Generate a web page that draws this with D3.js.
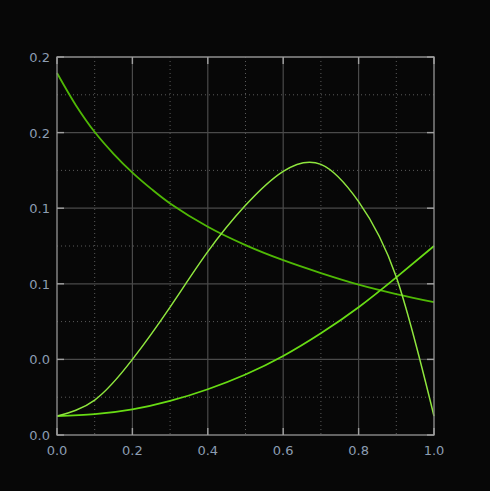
<!DOCTYPE html>
<html>
<head>
<meta charset="utf-8">
<script src="https://cdn.jsdelivr.net/npm/d3@7"></script>
<style>
  html, body { margin: 0; padding: 0; background: #070707; }
  svg { display: block; }
</style>
</head>
<body>
<div id="chart"></div>
<script>
// values
var xTicks = [0, 0.2, 0.4, 0.6, 0.8, 1.0];
var yTicks = [0, 0.04, 0.08, 0.12, 0.16, 0.20];

var decayX = [0, 0.05, 0.1, 0.15, 0.2, 0.25, 0.3, 0.4, 0.5, 0.6, 0.7, 0.8, 0.9, 1.0];
var decayY = [0.1915, 0.1745, 0.1603, 0.1488, 0.1388, 0.1302, 0.1225, 0.1102, 0.1005, 0.0925, 0.0857, 0.0796, 0.0746, 0.0703];

var humpX = [0, 0.1, 0.2, 0.3, 0.4, 0.5, 0.6, 0.7, 0.8, 0.9, 1.0];
var humpY = [0.010, 0.0185, 0.040, 0.0677, 0.0970, 0.1215, 0.1395, 0.1432, 0.1235, 0.0836, 0.0100];

var riseX = [0, 0.1, 0.2, 0.3, 0.4, 0.5, 0.6, 0.7, 0.8, 0.9, 1.0];
var riseY = [0.010, 0.011, 0.0135, 0.018, 0.0242, 0.032, 0.0418, 0.0538, 0.0676, 0.0834, 0.1000];

var chart = {
    width: 490,
    height: 491,
    margin: {top: 57, right: 56, bottom: 56, left: 57},
    init: function(){
        var m = this.margin;
        var w = this.width - m.left - m.right;
        var h = this.height - m.top - m.bottom;

        this.svg = d3.select('#chart').append('svg')
            .attr('width', this.width)
            .attr('height', this.height);
        this.svg.append('rect')
            .attr('width', this.width).attr('height', this.height)
            .attr('fill', '#070707');

        var g = this.svg.append('g').attr('transform', 'translate(' + m.left + ',' + m.top + ')');
        var x = d3.scaleLinear().domain([0, 1]).range([0, w]);
        var y = d3.scaleLinear().domain([0, 0.2]).range([h, 0]);

        // minor grid (dotted)
        var minorX = d3.range(0.1, 1, 0.2);
        var minorY = d3.range(0.02, 0.2, 0.04);
        g.selectAll('.mx').data(minorX).enter().append('line')
            .attr('x1', function(d){return x(d)}).attr('x2', function(d){return x(d)})
            .attr('y1', 0).attr('y2', h)
            .attr('stroke', '#5a5a5a').attr('stroke-width', 1).attr('stroke-dasharray', '1,3');
        g.selectAll('.my').data(minorY).enter().append('line')
            .attr('y1', function(d){return y(d)}).attr('y2', function(d){return y(d)})
            .attr('x1', 0).attr('x2', w)
            .attr('stroke', '#5a5a5a').attr('stroke-width', 1).attr('stroke-dasharray', '1,3');

        // major grid
        g.selectAll('.gx').data(xTicks.slice(1, -1)).enter().append('line')
            .attr('x1', function(d){return x(d)}).attr('x2', function(d){return x(d)})
            .attr('y1', 0).attr('y2', h)
            .attr('stroke', '#4a4a4a').attr('stroke-width', 1.2);
        g.selectAll('.gy').data(yTicks.slice(1)).enter().append('line')
            .attr('y1', function(d){return y(d)}).attr('y2', function(d){return y(d)})
            .attr('x1', 0).attr('x2', w)
            .attr('stroke', '#4a4a4a').attr('stroke-width', 1.2);

        // curves
        this.drawLine(g, x, y, decayX, decayY, '#4fb805', 1.8, d3.curveCatmullRom.alpha(0.5));
        this.drawLine(g, x, y, riseX, riseY, '#68dc14', 1.8, d3.curveNatural);
        this.drawLine(g, x, y, humpX, humpY, '#8fe63e', 1.5, d3.curveNatural);

        // frame
        g.append('rect').attr('width', w).attr('height', h)
            .attr('fill', 'none').attr('stroke', '#8a8a8a').attr('stroke-width', 1.4);

        // inward ticks on all sides
        var tk = 7;
        var tickCol = '#a0a0a0';
        g.selectAll('.tb').data(xTicks).enter().append('line')
            .attr('x1', function(d){return x(d)}).attr('x2', function(d){return x(d)})
            .attr('y1', h).attr('y2', h - tk).attr('stroke', tickCol).attr('stroke-width', 1.4);
        g.selectAll('.tt').data(xTicks).enter().append('line')
            .attr('x1', function(d){return x(d)}).attr('x2', function(d){return x(d)})
            .attr('y1', 0).attr('y2', tk).attr('stroke', tickCol).attr('stroke-width', 1.4);
        g.selectAll('.tl').data(yTicks).enter().append('line')
            .attr('y1', function(d){return y(d)}).attr('y2', function(d){return y(d)})
            .attr('x1', 0).attr('x2', tk).attr('stroke', tickCol).attr('stroke-width', 1.4);
        g.selectAll('.tr').data(yTicks).enter().append('line')
            .attr('y1', function(d){return y(d)}).attr('y2', function(d){return y(d)})
            .attr('x1', w).attr('x2', w - tk).attr('stroke', tickCol).attr('stroke-width', 1.4);

        // tick labels
        var fmt = d3.format('.1f');
        g.selectAll('.lx').data(xTicks).enter().append('text')
            .attr('x', function(d){return x(d)}).attr('y', h + 20)
            .attr('text-anchor', 'middle')
            .style('font-family', 'DejaVu Sans, sans-serif').style('font-size', '13px')
            .attr('fill', '#8c9db2')
            .text(function(d){return fmt(d)});
        g.selectAll('.ly').data(yTicks).enter().append('text')
            .attr('x', -7).attr('y', function(d){return y(d)}).attr('dy', '0.38em')
            .attr('text-anchor', 'end')
            .style('font-family', 'DejaVu Sans, sans-serif').style('font-size', '13px')
            .attr('fill', '#8c9db2')
            .text(function(d){return fmt(d)});
    },
    drawLine: function(g, x, y, xs, ys, color, sw, curve){
        var pts = xs.map(function(d, i){return [d, ys[i]]});
        var line = d3.line()
            .x(function(d){return x(d[0])})
            .y(function(d){return y(d[1])})
            .curve(curve);
        g.append('path').datum(pts)
            .attr('d', line)
            .attr('fill', 'none')
            .attr('stroke', color)
            .attr('stroke-width', sw);
    }
};
chart.init();
</script>
</body>
</html>
